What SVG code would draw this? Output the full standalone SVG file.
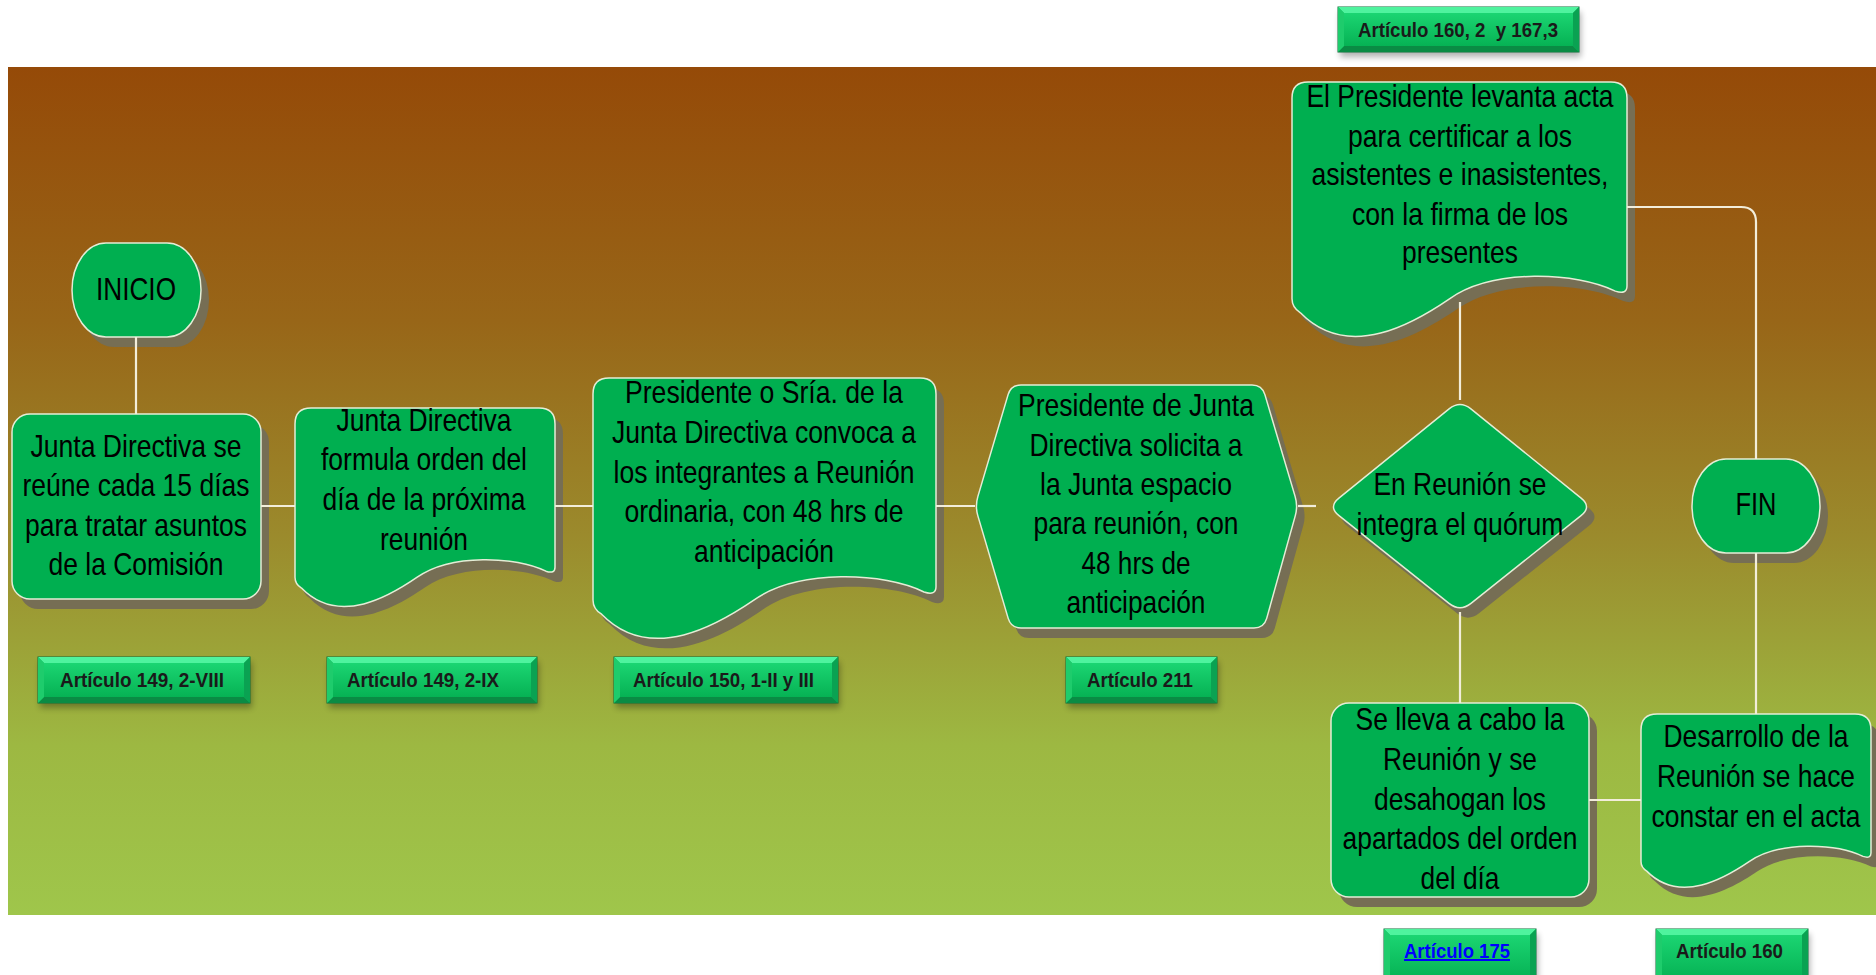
<svg xmlns="http://www.w3.org/2000/svg" width="1876" height="975" viewBox="0 0 1876 975">
<defs>
<linearGradient id="bg" x1="0" y1="0" x2="0" y2="1">
<stop offset="0" stop-color="#954A08"/>
<stop offset="0.3" stop-color="#986618"/>
<stop offset="0.55" stop-color="#9B8A2C"/>
<stop offset="0.8" stop-color="#9DB842"/>
<stop offset="1" stop-color="#9FC64B"/>
</linearGradient>
<linearGradient id="face" x1="0" y1="0" x2="0" y2="1">
<stop offset="0" stop-color="#1BD572"/>
<stop offset="1" stop-color="#06B254"/>
</linearGradient>
<filter id="bsh" x="-10%" y="-20%" width="120%" height="160%">
<feGaussianBlur stdDeviation="3"/>
</filter>
<style>
.nd{fill:#00AF50;stroke:#E4EDD6;stroke-width:1.5}
.sh{fill:#766E54}
.t{font-family:"Liberation Sans Narrow","Liberation Sans",Arial,sans-serif;font-size:32px;fill:#000;text-anchor:middle}
.lb{font-family:"Liberation Sans Narrow","Liberation Sans",Arial,sans-serif;font-size:20px;font-weight:bold;fill:#1A1A1A;text-anchor:middle;white-space:pre}
.lnk{fill:#0000FF;text-decoration:underline}
.bshadow{fill:#000;opacity:0.3;filter:url(#bsh)}
.bbase{fill:#08B456;stroke:#0F703A;stroke-width:1}
.btop{fill:#4FF39E}
.bbot{fill:#0A8B44}
.bl{fill:#1ECC6C}
.br{fill:#0AA252}
.bface{fill:url(#face)}
.cn{fill:none;stroke:#F2EDDA;stroke-width:2.2}
</style>
</defs>

<rect x="8" y="67" width="1868" height="848" fill="url(#bg)"/>

<g id="node-inicio">
<rect class="sh" x="80" y="253" width="129" height="94" rx="34" ry="47"/>
<rect class="nd" x="72" y="243" width="129" height="94" rx="34" ry="47"/>
<text class="t" x="136" y="300" textLength="80" lengthAdjust="spacingAndGlyphs">INICIO</text>
</g>

<g id="node-junta-reune">
<rect class="sh" x="20" y="424" width="249" height="185" rx="18"/>
<rect class="nd" x="12" y="414" width="249" height="185" rx="18"/>
<text class="t" x="136" y="457" textLength="211" lengthAdjust="spacingAndGlyphs">Junta Directiva se</text>
<text class="t" x="136" y="496" textLength="227" lengthAdjust="spacingAndGlyphs">reúne cada 15 días</text>
<text class="t" x="136" y="536" textLength="222" lengthAdjust="spacingAndGlyphs">para tratar asuntos</text>
<text class="t" x="136" y="575" textLength="175" lengthAdjust="spacingAndGlyphs">de la Comisión</text>
</g>

<g id="node-formula">
<path class="sh" transform="translate(8,10)" d="M295,424 Q295,408 311,408 H539 Q555,408 555,424 V567.2 Q555,574.2 545.9,571.2 C516,556.3 451,553.3 417.2,577.2 C391.2,595.1 339.2,626.9 301.5,588.1 Q295,584.1 295,577.2 Z"/>
<path class="nd" d="M295,424 Q295,408 311,408 H539 Q555,408 555,424 V567.2 Q555,574.2 545.9,571.2 C516,556.3 451,553.3 417.2,577.2 C391.2,595.1 339.2,626.9 301.5,588.1 Q295,584.1 295,577.2 Z"/>
<text class="t" x="424" y="431" textLength="175" lengthAdjust="spacingAndGlyphs">Junta Directiva</text>
<text class="t" x="424" y="470" textLength="206" lengthAdjust="spacingAndGlyphs">formula orden del</text>
<text class="t" x="424" y="510" textLength="203" lengthAdjust="spacingAndGlyphs">día de la próxima</text>
<text class="t" x="424" y="550" textLength="88" lengthAdjust="spacingAndGlyphs">reunión</text>
</g>

<g id="node-convoca">
<path class="sh" transform="translate(8,10)" d="M593,394 Q593,378 609,378 H920 Q936,378 936,394 V586.8 Q936,595.9 924,592 C884.6,572.4 798.8,568.5 754.2,599.9 C719.9,623.3 651.3,665.1 601.6,614.2 Q593,609 593,599.9 Z"/>
<path class="nd" d="M593,394 Q593,378 609,378 H920 Q936,378 936,394 V586.8 Q936,595.9 924,592 C884.6,572.4 798.8,568.5 754.2,599.9 C719.9,623.3 651.3,665.1 601.6,614.2 Q593,609 593,599.9 Z"/>
<text class="t" x="764" y="403" textLength="278" lengthAdjust="spacingAndGlyphs">Presidente o Sría. de la</text>
<text class="t" x="764" y="443" textLength="304" lengthAdjust="spacingAndGlyphs">Junta Directiva convoca a</text>
<text class="t" x="764" y="483" textLength="301" lengthAdjust="spacingAndGlyphs">los integrantes a Reunión</text>
<text class="t" x="764" y="522" textLength="279" lengthAdjust="spacingAndGlyphs">ordinaria, con 48 hrs de</text>
<text class="t" x="764" y="562" textLength="140" lengthAdjust="spacingAndGlyphs">anticipación</text>
</g>

<g id="node-solicita">
<path class="sh" transform="translate(8,10)" d="M977.9,496.4 L1008.1,394.6 Q1011,385 1021,385 L1252,385 Q1262,385 1264.9,394.6 L1295.1,496.4 Q1298,506 1295.3,515.6 L1266.7,618.4 Q1264,628 1254,628 L1021,628 Q1011,628 1008.2,618.4 L977.8,515.6 Q975,506 977.9,496.4 Z"/>
<path class="nd" d="M977.9,496.4 L1008.1,394.6 Q1011,385 1021,385 L1252,385 Q1262,385 1264.9,394.6 L1295.1,496.4 Q1298,506 1295.3,515.6 L1266.7,618.4 Q1264,628 1254,628 L1021,628 Q1011,628 1008.2,618.4 L977.8,515.6 Q975,506 977.9,496.4 Z"/>
<text class="t" x="1136" y="416" textLength="236" lengthAdjust="spacingAndGlyphs">Presidente de Junta</text>
<text class="t" x="1136" y="456" textLength="213" lengthAdjust="spacingAndGlyphs">Directiva solicita a</text>
<text class="t" x="1136" y="495" textLength="192" lengthAdjust="spacingAndGlyphs">la Junta espacio</text>
<text class="t" x="1136" y="534" textLength="205" lengthAdjust="spacingAndGlyphs">para reunión, con</text>
<text class="t" x="1136" y="574" textLength="109" lengthAdjust="spacingAndGlyphs">48 hrs de</text>
<text class="t" x="1136" y="613" textLength="139" lengthAdjust="spacingAndGlyphs">anticipación</text>
</g>

<g id="node-quorum">
<path class="sh" transform="translate(8,10)" d="M1338.9,498.2 L1449.1,408.8 Q1460,400 1470.9,408.8 L1581.1,498.2 Q1592,507 1581,515.7 L1471,603.3 Q1460,612 1449,603.3 L1339,515.7 Q1328,507 1338.9,498.2 Z"/>
<path class="nd" d="M1338.9,498.2 L1449.1,408.8 Q1460,400 1470.9,408.8 L1581.1,498.2 Q1592,507 1581,515.7 L1471,603.3 Q1460,612 1449,603.3 L1339,515.7 Q1328,507 1338.9,498.2 Z"/>
<text class="t" x="1460" y="495" textLength="173" lengthAdjust="spacingAndGlyphs">En Reunión se</text>
<text class="t" x="1460" y="535" textLength="207" lengthAdjust="spacingAndGlyphs">integra el quórum</text>
</g>

<g id="node-acta">
<path class="sh" transform="translate(8,10)" d="M1292,98 Q1292,82 1308,82 H1611 Q1627,82 1627,98 V286 Q1627,294.9 1615.3,291.1 C1576.8,272 1493,268.2 1449.5,298.8 C1416,321.7 1349,362.5 1300.4,312.8 Q1292,307.7 1292,298.8 Z"/>
<path class="nd" d="M1292,98 Q1292,82 1308,82 H1611 Q1627,82 1627,98 V286 Q1627,294.9 1615.3,291.1 C1576.8,272 1493,268.2 1449.5,298.8 C1416,321.7 1349,362.5 1300.4,312.8 Q1292,307.7 1292,298.8 Z"/>
<text class="t" x="1460" y="107" textLength="307" lengthAdjust="spacingAndGlyphs">El Presidente levanta acta</text>
<text class="t" x="1460" y="147" textLength="224" lengthAdjust="spacingAndGlyphs">para certificar a los</text>
<text class="t" x="1460" y="185" textLength="297" lengthAdjust="spacingAndGlyphs">asistentes e inasistentes,</text>
<text class="t" x="1460" y="225" textLength="216" lengthAdjust="spacingAndGlyphs">con la firma de los</text>
<text class="t" x="1460" y="263" textLength="116" lengthAdjust="spacingAndGlyphs">presentes</text>
</g>

<g id="node-fin">
<rect class="sh" x="1700" y="469" width="128" height="94" rx="34" ry="47"/>
<rect class="nd" x="1692" y="459" width="128" height="94" rx="34" ry="47"/>
<text class="t" x="1756" y="515" textLength="41" lengthAdjust="spacingAndGlyphs">FIN</text>
</g>

<g id="node-desahogan">
<rect class="sh" x="1339" y="713" width="258" height="194" rx="18"/>
<rect class="nd" x="1331" y="703" width="258" height="194" rx="18"/>
<text class="t" x="1460" y="730" textLength="209" lengthAdjust="spacingAndGlyphs">Se lleva a cabo la</text>
<text class="t" x="1460" y="770" textLength="154" lengthAdjust="spacingAndGlyphs">Reunión y se</text>
<text class="t" x="1460" y="810" textLength="172" lengthAdjust="spacingAndGlyphs">desahogan los</text>
<text class="t" x="1460" y="849" textLength="235" lengthAdjust="spacingAndGlyphs">apartados del orden</text>
<text class="t" x="1460" y="889" textLength="79" lengthAdjust="spacingAndGlyphs">del día</text>
</g>

<g id="node-desarrollo">
<path class="sh" transform="translate(8,10)" d="M1641,730 Q1641,714 1657,714 H1855 Q1871,714 1871,730 V852.9 Q1871,859 1863,856.4 C1836.5,843.3 1779,840.7 1749.1,861.6 C1726.1,877.2 1680.1,905 1646.75,871.1 Q1641,867.6 1641,861.6 Z"/>
<path class="nd" d="M1641,730 Q1641,714 1657,714 H1855 Q1871,714 1871,730 V852.9 Q1871,859 1863,856.4 C1836.5,843.3 1779,840.7 1749.1,861.6 C1726.1,877.2 1680.1,905 1646.75,871.1 Q1641,867.6 1641,861.6 Z"/>
<text class="t" x="1756" y="747" textLength="185" lengthAdjust="spacingAndGlyphs">Desarrollo de la</text>
<text class="t" x="1756" y="787" textLength="198" lengthAdjust="spacingAndGlyphs">Reunión se hace</text>
<text class="t" x="1756" y="827" textLength="209" lengthAdjust="spacingAndGlyphs">constar en el acta</text>
</g>

<g id="connectors">
<path class="cn" d="M136,337 V414"/>
<path class="cn" d="M261,506 H295"/>
<path class="cn" d="M555,506 H593"/>
<path class="cn" d="M936,506 H975"/>
<path class="cn" d="M1298,506 H1316"/>
<path class="cn" d="M1460,400 V302"/>
<path class="cn" d="M1460,612 V703"/>
<path class="cn" d="M1589,800 H1641"/>
<path class="cn" d="M1627,207 H1741 Q1756,207 1756,222 V459"/>
<path class="cn" d="M1756,553 V714"/>
</g>

<g id="label-149-viii">
<rect class="bshadow" x="40" y="662" width="212" height="46"/>
<rect class="bbase" x="38" y="657" width="212" height="46"/>
<polygon class="btop" points="38,657 250,657 244,663 44,663"/>
<polygon class="bbot" points="38,703 250,703 244,697 44,697"/>
<polygon class="bl" points="38,657 44,663 44,697 38,703"/>
<polygon class="br" points="250,657 244,663 244,697 250,703"/>
<rect class="bface" x="44" y="663" width="200" height="34"/>
<text class="lb" x="142" y="687" textLength="164" lengthAdjust="spacingAndGlyphs">Artículo 149, 2-VIII</text>
</g>

<g id="label-149-ix">
<rect class="bshadow" x="329" y="662" width="210" height="46"/>
<rect class="bbase" x="327" y="657" width="210" height="46"/>
<polygon class="btop" points="327,657 537,657 531,663 333,663"/>
<polygon class="bbot" points="327,703 537,703 531,697 333,697"/>
<polygon class="bl" points="327,657 333,663 333,697 327,703"/>
<polygon class="br" points="537,657 531,663 531,697 537,703"/>
<rect class="bface" x="333" y="663" width="198" height="34"/>
<text class="lb" x="423" y="687" textLength="152" lengthAdjust="spacingAndGlyphs">Artículo 149, 2-IX</text>
</g>

<g id="label-150">
<rect class="bshadow" x="616" y="662" width="224" height="46"/>
<rect class="bbase" x="614" y="657" width="224" height="46"/>
<polygon class="btop" points="614,657 838,657 832,663 620,663"/>
<polygon class="bbot" points="614,703 838,703 832,697 620,697"/>
<polygon class="bl" points="614,657 620,663 620,697 614,703"/>
<polygon class="br" points="838,657 832,663 832,697 838,703"/>
<rect class="bface" x="620" y="663" width="212" height="34"/>
<text class="lb" x="723.5" y="687" textLength="181" lengthAdjust="spacingAndGlyphs">Artículo 150, 1-II y III</text>
</g>

<g id="label-211">
<rect class="bshadow" x="1068" y="662" width="151" height="46"/>
<rect class="bbase" x="1066" y="657" width="151" height="46"/>
<polygon class="btop" points="1066,657 1217,657 1211,663 1072,663"/>
<polygon class="bbot" points="1066,703 1217,703 1211,697 1072,697"/>
<polygon class="bl" points="1066,657 1072,663 1072,697 1066,703"/>
<polygon class="br" points="1217,657 1211,663 1211,697 1217,703"/>
<rect class="bface" x="1072" y="663" width="139" height="34"/>
<text class="lb" x="1140" y="687" textLength="106" lengthAdjust="spacingAndGlyphs">Artículo 211</text>
</g>

<g id="label-160-167">
<rect class="bshadow" x="1340" y="12" width="241" height="45"/>
<rect class="bbase" x="1338" y="7" width="241" height="45"/>
<polygon class="btop" points="1338,7 1579,7 1573,13 1344,13"/>
<polygon class="bbot" points="1338,52 1579,52 1573,46 1344,46"/>
<polygon class="bl" points="1338,7 1344,13 1344,46 1338,52"/>
<polygon class="br" points="1579,7 1573,13 1573,46 1579,52"/>
<rect class="bface" x="1344" y="13" width="229" height="33"/>
<text class="lb" x="1458" y="37" textLength="200" lengthAdjust="spacingAndGlyphs">Artículo 160, 2  y 167,3</text>
</g>

<g id="label-175">
<rect class="bshadow" x="1386" y="934" width="152" height="50"/>
<rect class="bbase" x="1384" y="929" width="152" height="50"/>
<polygon class="btop" points="1384,929 1536,929 1530,935 1390,935"/>
<polygon class="bl" points="1384,929 1390,935 1390,979 1384,979"/>
<polygon class="br" points="1536,929 1530,935 1530,979 1536,979"/>
<rect class="bface" x="1390" y="935" width="140" height="44"/>
<text class="lb lnk" x="1457" y="958" textLength="106" lengthAdjust="spacingAndGlyphs">Artículo 175</text>
</g>

<g id="label-160">
<rect class="bshadow" x="1658" y="934" width="152" height="50"/>
<rect class="bbase" x="1656" y="929" width="152" height="50"/>
<polygon class="btop" points="1656,929 1808,929 1802,935 1662,935"/>
<polygon class="bl" points="1656,929 1662,935 1662,979 1656,979"/>
<polygon class="br" points="1808,929 1802,935 1802,979 1808,979"/>
<rect class="bface" x="1662" y="935" width="140" height="44"/>
<text class="lb" x="1729.5" y="958" textLength="107" lengthAdjust="spacingAndGlyphs">Artículo 160</text>
</g>
</svg>
